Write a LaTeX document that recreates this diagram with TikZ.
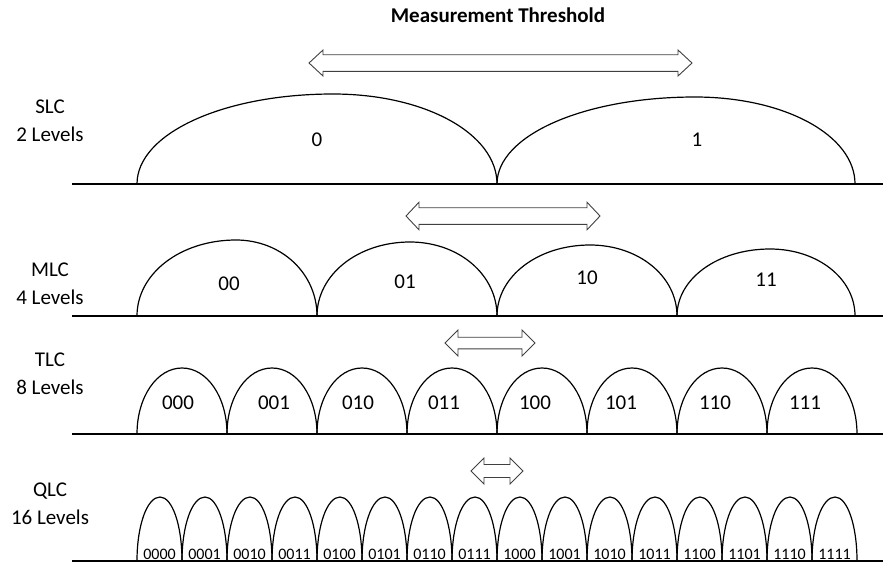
\documentclass[tikz,border=0pt]{standalone}
\usepackage{fontspec}
\setmainfont{Carlito}
\newcommand\archx[5]{% x0 x1 xpeak ytop ybase
  \draw[archline] ({#1},{#5}) .. controls ({#1},{#5-0.56*(#5-#4)}) and ({#3-0.56*(#3-#1)},{#4}) .. ({#3},{#4})
    .. controls ({#3+0.56*(#2-#3)},{#4}) and ({#2},{#5-0.56*(#5-#4)}) .. ({#2},{#5});}
\newcommand\thrarrow[6]{% xl xr yc shafthalf headhalf headlen
  \draw[thr] ({#1},{#3}) -- ({#1+#6},{#3-#5}) -- ({#1+#6},{#3-#4}) -- ({#2-#6},{#3-#4}) -- ({#2-#6},{#3-#5})
    -- ({#2},{#3}) -- ({#2-#6},{#3+#5}) -- ({#2-#6},{#3+#4}) -- ({#1+#6},{#3+#4}) -- ({#1+#6},{#3+#5}) -- cycle;}
\begin{document}
\begin{tikzpicture}[x=1pt,y=-1pt,
  baseline/.style={line width=1.3pt,black},
  archline/.style={line width=1.2pt,black},
  thr/.style={draw=black!75,line width=0.9pt,fill=white,line join=miter},
  lvl/.style={font=\fontsize{21}{28}\selectfont,align=center,inner sep=0pt},
  bits/.style={font=\fontsize{21}{25}\selectfont,inner sep=0pt},
  qbits/.style={font=\fontsize{16}{19}\selectfont,inner sep=0pt}]
\useasboundingbox (0,0) rectangle (885,563);

\node[font=\bfseries\fontsize{21}{25}\selectfont,inner sep=0pt] (title) at (498,15) {Measurement Threshold};

% level labels
\node[lvl] (slc) at (50,121) {SLC\\2 Levels};
\node[lvl] (mlc) at (50,284) {MLC\\4 Levels};
\node[lvl] (tlc) at (50,374) {TLC\\8 Levels};
\node[lvl] (qlc) at (50,504) {QLC\\16 Levels};

% baselines
\draw[baseline] (72,184) -- (883,184);
\draw[baseline] (72,316) -- (883,316);
\draw[baseline] (72,434) -- (883,434);
\draw[baseline] (72,561) -- (883,561);

% threshold arrows
\thrarrow{309}{692}{63}{8.3}{13}{14}
\thrarrow{406}{600}{216}{8.3}{13.8}{13}
\thrarrow{445}{535}{343}{5.8}{13}{13}
\thrarrow{471}{523}{471}{6.5}{13}{13}

% SLC
\archx{137}{497}{333}{94}{184}
\archx{497}{855}{695}{97}{184}
\node[bits] (s0) at (317,140) {0};
\node[bits] (s1) at (697,140) {1};

% MLC
\archx{137}{317}{236}{240}{316}
\archx{317}{497}{410}{242}{316}
\archx{497}{677}{590}{245}{316}
\archx{677}{855}{770}{249}{316}
\node[bits] (m00) at (229,284) {00};
\node[bits] (m01) at (405,282) {01};
\node[bits] (m10) at (587,278) {10};
\node[bits] (m11) at (766,280) {11};

% TLC
\foreach \i in {0,...,7}{
  \pgfmathsetmacro\xa{137+90*\i}
  \pgfmathsetmacro\xb{227+90*\i}
  \pgfmathsetmacro\xp{182+90*\i}
  \archx{\xa}{\xb}{\xp}{368}{434}
}
\foreach \x/\t in {178/000,274/001,358/010,444/011,535/100,621/101,715/110,805/111}
  \node[bits] (t\t) at (\x,403) {\t};

% QLC
\foreach \i in {0,...,15}{
  \pgfmathsetmacro\xa{137+45*\i}
  \pgfmathsetmacro\xb{182+45*\i}
  \pgfmathsetmacro\xp{160+45*\i}
  \archx{\xa}{\xb}{\xp}{497}{561}
}
\foreach \t [count=\i from 0] in {0000,0001,0010,0011,0100,0101,0110,0111,1000,1001,1010,1011,1100,1101,1110,1111}
  \node[qbits] (q\t) at ({159.5+45*\i},554) {\t};
\end{tikzpicture}
\end{document}
